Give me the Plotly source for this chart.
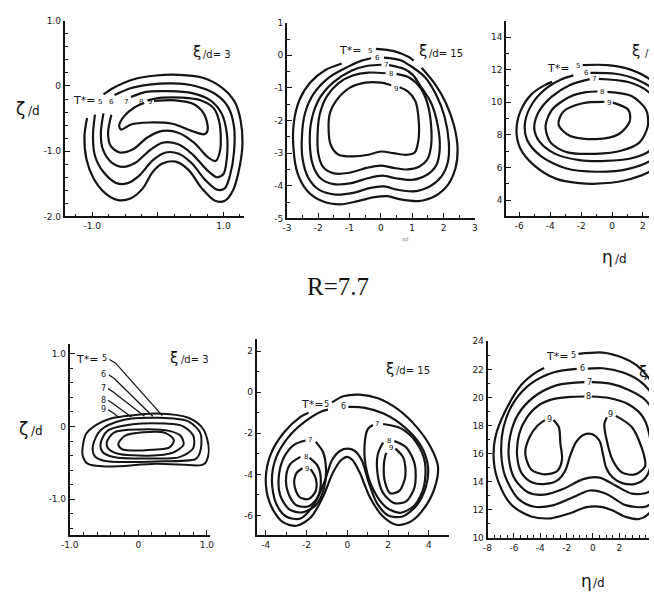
import plotly.graph_objects as go

# ---------------------------------------------------------------------------
# Isotherm contours T* = 5..9 in the (eta/d, zeta/d) cross plane,
# read off as (eta/d, zeta/d) vertices along each isoline.
# ---------------------------------------------------------------------------
LEVELS = [5, 6, 7, 8, 9]

# top row, xi/d = 3
P1_T5 = [(-1.08, -0.49), (-1.12, -0.77), (-1.09, -1.12), (-0.98, -1.42), (-0.81, -1.64),
         (-0.61, -1.75), (-0.41, -1.72), (-0.23, -1.57), (-0.08, -1.32), (0.07, -1.19),
         (0.27, -1.16), (0.47, -1.29), (0.67, -1.57), (0.87, -1.76), (1.02, -1.76),
         (1.15, -1.59), (1.25, -1.22), (1.29, -0.87), (1.26, -0.52), (1.17, -0.24),
         (0.97, -0.02), (0.67, 0.13), (0.32, 0.17), (-0.03, 0.16), (-0.38, 0.10),
         (-0.68, -0.03), (-0.83, -0.13)]
P1_T6 = [(-0.96, -0.44), (-0.99, -0.77), (-0.96, -1.07), (-0.83, -1.32), (-0.63, -1.49),
         (-0.46, -1.49), (-0.28, -1.37), (-0.08, -1.14), (0.12, -1.02), (0.32, -1.04),
         (0.52, -1.19), (0.72, -1.44), (0.90, -1.59), (1.02, -1.57), (1.10, -1.37),
         (1.16, -1.02), (1.16, -0.62), (1.07, -0.32), (0.87, -0.12), (0.57, 0.00),
         (0.22, 0.04), (-0.13, 0.02), (-0.43, -0.04), (-0.66, -0.14)]
P1_T7 = [(-0.83, -0.42), (-0.87, -0.72), (-0.84, -0.97), (-0.71, -1.17), (-0.53, -1.24),
         (-0.33, -1.17), (-0.13, -0.99), (0.07, -0.87), (0.30, -0.89), (0.52, -1.04),
         (0.75, -1.29), (0.90, -1.40), (1.00, -1.35), (1.05, -1.12), (1.05, -0.72),
         (0.97, -0.42), (0.80, -0.22), (0.52, -0.11), (0.17, -0.08), (-0.18, -0.09),
         (-0.41, -0.17)]
P1_T8 = [(-0.71, -0.44), (-0.76, -0.72), (-0.72, -0.92), (-0.58, -1.02), (-0.38, -0.97),
         (-0.16, -0.79), (0.07, -0.69), (0.32, -0.72), (0.55, -0.87), (0.77, -1.10),
         (0.88, -1.15), (0.95, -0.98), (0.94, -0.57), (0.85, -0.34), (0.65, -0.22),
         (0.37, -0.18), (0.07, -0.18), (-0.16, -0.22)]
P1_T9 = [(-0.06, -0.23), (0.27, -0.22), (0.55, -0.28), (0.71, -0.44), (0.76, -0.67),
         (0.71, -0.74), (0.52, -0.69), (0.22, -0.58), (-0.13, -0.56), (-0.41, -0.59),
         (-0.56, -0.67), (-0.59, -0.61), (-0.52, -0.47), (-0.36, -0.33), (-0.21, -0.26)]

# top row, xi/d = 15
P2_T5A = [(-0.16, 0.20), (0.42, 0.13), (0.89, -0.05), (1.05, -0.16)]
P2_T5B = [(1.30, -0.38), (1.72, -0.87), (2.08, -1.47), (2.34, -2.17), (2.45, -2.87),
          (2.38, -3.47), (2.14, -3.97), (1.72, -4.32), (1.20, -4.47), (0.63, -4.42),
          (0.21, -4.32), (-0.21, -4.35), (-0.73, -4.47), (-1.30, -4.57), (-1.88, -4.47),
          (-2.34, -4.17), (-2.66, -3.62), (-2.79, -2.87), (-2.78, -2.07), (-2.60, -1.37),
          (-2.24, -0.82), (-1.77, -0.45), (-1.25, -0.25)]
P2_T6 = [(0.10, -0.07), (0.63, -0.15), (0.94, -0.32), (1.41, -0.67), (1.77, -1.22),
         (2.03, -1.87), (2.17, -2.67), (2.14, -3.27), (1.93, -3.72), (1.56, -4.02),
         (1.04, -4.17), (0.52, -4.12), (0.10, -4.02), (-0.36, -4.07), (-0.89, -4.22),
         (-1.46, -4.27), (-1.98, -4.12), (-2.31, -3.77), (-2.50, -3.17), (-2.52, -2.47),
         (-2.42, -1.77), (-2.14, -1.17), (-1.67, -0.69), (-1.09, -0.37), (-0.63, -0.17),
         (-0.31, -0.09)]
P2_T7 = [(0.26, -0.30), (0.75, -0.42), (1.02, -0.60), (1.25, -0.92), (1.61, -1.47),
         (1.82, -2.17), (1.88, -2.87), (1.77, -3.37), (1.46, -3.67), (0.99, -3.82),
         (0.47, -3.77), (0.05, -3.69), (-0.42, -3.77), (-0.94, -3.92), (-1.51, -3.95),
         (-1.93, -3.77), (-2.17, -3.37), (-2.27, -2.67), (-2.21, -1.97), (-1.96, -1.32),
         (-1.51, -0.82), (-0.94, -0.47), (-0.42, -0.32), (0.02, -0.29)]
P2_T8 = [(0.50, -0.57), (0.90, -0.68), (1.25, -0.98), (1.48, -1.45), (1.60, -2.10),
         (1.60, -2.80), (1.48, -3.20), (1.22, -3.42), (0.85, -3.50), (0.40, -3.45),
         (0.00, -3.38), (-0.45, -3.45), (-1.00, -3.60), (-1.50, -3.62), (-1.85, -3.42),
         (-2.00, -3.00), (-2.02, -2.40), (-1.95, -1.80), (-1.72, -1.25), (-1.35, -0.85),
         (-0.90, -0.62), (-0.40, -0.53), (0.15, -0.55)]
P2_T9 = [(0.60, -0.98), (0.85, -1.10), (1.10, -1.40), (1.20, -1.90), (1.20, -2.60),
         (1.08, -2.98), (0.80, -3.05), (0.40, -3.00), (0.00, -2.95), (-0.40, -3.05),
         (-0.90, -3.10), (-1.35, -3.05), (-1.60, -2.75), (-1.67, -2.20), (-1.62, -1.75),
         (-1.42, -1.38), (-1.00, -1.00), (-0.50, -0.84), (0.00, -0.84), (0.33, -0.92)]

# top row, far field
P3_T5 = [(-1.90, 12.28), (-0.30, 12.28), (1.20, 12.00), (2.60, 11.30), (3.80, 10.00),
         (4.20, 8.50), (3.80, 7.00), (2.70, 5.90), (0.80, 5.20), (-1.20, 5.00),
         (-2.10, 5.04), (-3.60, 5.30), (-5.00, 6.10), (-5.95, 7.20), (-6.18, 8.30),
         (-5.90, 9.50), (-5.20, 10.50), (-4.35, 11.05), (-3.88, 11.25)]
P3_T6 = [(-1.40, 11.80), (0.20, 11.75), (1.60, 11.40), (2.90, 10.60), (3.60, 9.30),
         (3.50, 7.70), (2.60, 6.50), (1.00, 5.90), (-1.00, 5.74), (-3.00, 5.95),
         (-4.60, 6.70), (-5.50, 7.70), (-5.62, 8.80), (-5.10, 10.00), (-4.20, 10.90),
         (-3.30, 11.40), (-2.50, 11.65)]
P3_T7 = [(-0.85, 11.44), (1.05, 11.24), (2.35, 10.64), (3.10, 9.60), (3.10, 8.20),
         (2.40, 7.00), (1.20, 6.55), (-0.40, 6.40), (-2.10, 6.45), (-3.70, 6.85),
         (-4.70, 7.60), (-5.03, 8.40), (-4.75, 9.40), (-3.90, 10.35), (-2.75, 11.05),
         (-1.45, 11.42)]
P3_T8 = [(-0.30, 10.64), (1.26, 10.38), (2.20, 9.54), (2.31, 8.54), (1.78, 7.54),
         (0.63, 7.04), (-1.05, 6.84), (-2.94, 6.94), (-3.98, 7.54), (-4.30, 8.54),
         (-3.88, 9.54), (-2.73, 10.34), (-1.68, 10.62), (-0.95, 10.66)]
P3_T9 = [(0.05, 9.98), (1.05, 9.54), (1.15, 8.84), (0.42, 8.04), (-1.05, 7.74),
         (-2.73, 7.94), (-3.46, 8.64), (-3.14, 9.44), (-1.89, 9.94), (-0.50, 10.02)]

# bottom row, xi/d = 3 (closed isolines)
P4_T5 = [(-0.81, -0.28), (-0.76, -0.10), (-0.60, 0.03), (-0.40, 0.11), (-0.22, 0.14),
         (0.26, 0.18), (0.73, 0.12), (0.95, -0.04), (1.03, -0.33), (0.98, -0.50),
         (0.92, -0.53), (0.26, -0.51), (-0.46, -0.55), (-0.74, -0.51), (-0.81, -0.40)]
P4_T6 = [(-0.66, -0.26), (-0.55, -0.05), (-0.22, 0.09), (0.30, 0.12), (0.73, 0.07),
         (0.90, -0.08), (0.92, -0.24), (0.88, -0.40), (0.83, -0.45), (0.26, -0.48),
         (-0.50, -0.47), (-0.64, -0.40)]
P4_T7 = [(-0.55, -0.24), (-0.45, -0.06), (-0.08, 0.03), (0.40, 0.04), (0.64, 0.01),
         (0.80, -0.12), (0.80, -0.30), (0.60, -0.42), (0.20, -0.44), (-0.36, -0.42),
         (-0.52, -0.35)]
P4_T8 = [(-0.46, -0.22), (-0.35, -0.08), (0.02, -0.04), (0.45, -0.06), (0.62, -0.13),
         (0.66, -0.25), (0.50, -0.36), (0.16, -0.40), (-0.31, -0.37), (-0.44, -0.30)]
P4_T9 = [(-0.29, -0.24), (-0.20, -0.13), (0.07, -0.08), (0.40, -0.09), (0.52, -0.19),
         (0.45, -0.29), (0.20, -0.32), (0.02, -0.33), (-0.24, -0.31)]
# leader lines from the level labels down to the isolines
P4_LEAD = [
    [(-0.42, 0.92), (-0.33, 0.87), (0.35, 0.15)],
    [(-0.43, 0.71), (-0.35, 0.66), (0.21, 0.14)],
    [(-0.44, 0.52), (-0.36, 0.47), (0.09, 0.14)],
    [(-0.44, 0.36), (-0.36, 0.31), (-0.10, 0.13)],
    [(-0.44, 0.23), (-0.37, 0.19), (-0.29, 0.13)],
]

# bottom row, xi/d = 15 (two lobes)
P5_T5 = [(-0.75, -0.50), (-0.20, -0.20), (0.60, -0.12), (1.50, -0.30), (2.50, -0.85),
         (3.40, -1.70), (4.10, -2.70), (4.44, -3.60), (4.30, -4.60), (3.80, -5.60),
         (3.10, -6.30), (2.40, -6.45), (1.70, -6.00), (1.10, -5.10), (0.60, -3.90),
         (0.25, -3.30), (0.00, -3.15), (-0.30, -3.30), (-0.70, -3.90), (-1.20, -5.10),
         (-1.80, -6.10), (-2.50, -6.50), (-3.20, -6.30), (-3.80, -5.40), (-4.00, -4.20),
         (-3.75, -3.00), (-3.10, -1.95), (-2.30, -1.20), (-1.90, -1.00)]
P5_T6 = [(0.05, -0.72), (0.80, -0.75), (1.80, -1.05), (2.80, -1.70), (3.60, -2.60),
         (3.95, -3.60), (3.85, -4.60), (3.40, -5.50), (2.70, -6.05), (2.00, -6.00),
         (1.45, -5.40), (1.05, -4.40), (0.70, -3.30), (0.35, -2.85), (0.00, -2.75),
         (-0.35, -2.85), (-0.75, -3.30), (-1.10, -4.30), (-1.60, -5.40), (-2.30, -6.15),
         (-3.00, -6.05), (-3.50, -5.40), (-3.70, -4.30), (-3.50, -3.20), (-2.90, -2.20),
         (-2.10, -1.45), (-1.30, -0.95), (-0.95, -0.85)]
P5_T7L = [(-1.55, -2.42), (-1.20, -2.90), (-1.05, -3.70), (-1.15, -4.70), (-1.55, -5.50),
          (-2.20, -5.85), (-2.85, -5.70), (-3.30, -5.00), (-3.35, -4.00), (-3.10, -3.15),
          (-2.60, -2.55), (-2.05, -2.35)]
P5_T8L = [(-1.85, -3.20), (-1.45, -3.60), (-1.30, -4.30), (-1.45, -5.10), (-1.90, -5.55),
          (-2.50, -5.50), (-2.90, -4.90), (-3.00, -4.10), (-2.80, -3.50), (-2.30, -3.15)]
P5_T9L = [(-1.80, -3.75), (-1.55, -4.20), (-1.55, -4.80), (-1.90, -5.20), (-2.35, -5.10),
          (-2.60, -4.50), (-2.50, -3.95), (-2.20, -3.70)]
P5_T7R = [(1.75, -1.55), (2.60, -1.75), (3.35, -2.40), (3.80, -3.40), (3.75, -4.60),
          (3.30, -5.50), (2.60, -5.87), (1.90, -5.60), (1.30, -4.80), (0.90, -3.60),
          (0.85, -2.50), (1.00, -1.80), (1.25, -1.60)]
P5_T8R = [(2.30, -2.38), (2.90, -2.70), (3.30, -3.50), (3.30, -4.60), (2.90, -5.30),
          (2.30, -5.40), (1.75, -4.90), (1.47, -3.90), (1.50, -3.00), (1.75, -2.45)]
P5_T9R = [(2.35, -2.75), (2.75, -3.20), (2.84, -4.10), (2.55, -4.80), (2.10, -4.92),
          (1.85, -4.40), (1.79, -3.50), (1.90, -2.95)]

# bottom row, far field (two lobes)
P6_T5 = [(-1.10, 23.10), (0.74, 23.20), (2.22, 22.85), (3.30, 22.30), (4.30, 21.30),
         (5.20, 19.50), (5.60, 16.50), (5.20, 13.60), (4.30, 11.80), (3.50, 11.35),
         (2.50, 11.50), (1.50, 11.95), (0.74, 12.20), (-0.49, 12.20), (-1.73, 11.76),
         (-3.20, 11.40), (-4.69, 11.53), (-6.17, 12.34), (-7.16, 13.95), (-7.53, 15.57),
         (-7.40, 17.20), (-6.67, 19.00), (-5.43, 20.90), (-4.30, 21.80), (-3.70, 22.10)]
P6_T6 = [(-0.40, 22.06), (0.74, 22.08), (2.22, 21.80), (3.46, 21.23), (4.50, 20.20),
         (5.20, 18.00), (5.20, 14.50), (4.50, 12.60), (3.95, 12.22), (2.47, 12.34),
         (0.99, 13.15), (-0.25, 13.38), (-1.48, 12.91), (-2.96, 12.34), (-4.44, 12.22),
         (-5.68, 12.80), (-6.67, 14.42), (-6.96, 16.03), (-6.79, 17.88), (-6.05, 19.60),
         (-4.69, 21.00), (-2.96, 21.80), (-1.23, 22.04)]
P6_T7 = [(-0.10, 21.10), (1.23, 21.00), (2.72, 20.54), (3.95, 19.84), (4.80, 18.50),
         (5.00, 16.00), (4.80, 14.00), (4.20, 13.26), (2.96, 13.15), (1.73, 13.72),
         (0.49, 14.30), (-0.74, 14.19), (-2.22, 13.50), (-3.70, 13.08), (-4.94, 13.26),
         (-5.93, 14.19), (-6.37, 15.57), (-6.30, 17.19), (-5.68, 18.80), (-4.44, 20.07),
         (-2.72, 20.88), (-0.65, 21.10)]
P6_T8 = [(-0.10, 20.07), (1.23, 19.96), (2.72, 19.50), (3.80, 18.60), (4.35, 17.00),
         (4.40, 15.30), (4.00, 14.30), (3.21, 13.85), (2.22, 13.90), (1.50, 14.30),
         (1.00, 15.00), (0.75, 16.00), (0.50, 16.90), (-0.10, 17.40), (-0.70, 17.35),
         (-1.30, 16.80), (-1.75, 15.80), (-2.10, 14.80), (-2.70, 14.10), (-3.60, 13.85),
         (-4.60, 13.95), (-5.40, 14.60), (-5.75, 15.80), (-5.60, 17.40), (-5.00, 18.60),
         (-4.10, 19.45), (-2.96, 19.90), (-1.60, 20.05), (-0.65, 20.07)]
P6_T9L = [(-3.00, 18.40), (-2.59, 17.88), (-2.47, 16.72), (-2.35, 15.57), (-2.72, 14.76),
          (-3.70, 14.53), (-4.69, 14.88), (-5.14, 16.03), (-4.81, 17.19), (-4.20, 18.00),
          (-3.65, 18.39)]
P6_T9R = [(1.73, 18.69), (2.96, 17.88), (3.83, 16.03), (3.95, 15.10), (3.21, 14.53),
          (2.22, 14.65), (1.48, 15.57), (0.99, 17.19), (0.86, 18.11), (1.05, 18.60)]

# tick values per panel
P1_XTICKS, P1_YTICKS = [-1.0, 0.0, 1.0], [1.0, 0.0, -1.0, -2.0]
P2_XTICKS, P2_YTICKS = [-3, -2, -1, 0, 1, 2, 3], [1, 0, -1, -2, -3, -4, -5]
P3_XTICKS, P3_YTICKS = [-6, -4, -2, 0, 2], [4, 6, 8, 10, 12, 14]
P4_XTICKS, P4_YTICKS = [-1.0, 0.0, 1.0], [1.0, 0.0, -1.0]
P5_XTICKS, P5_YTICKS = [-4, -2, 0, 2, 4], [2, 0, -2, -4, -6]
P6_XTICKS, P6_YTICKS = [-8, -6, -4, -2, 0, 2], [10, 12, 14, 16, 18, 20, 22, 24]

# ---------------------------------------------------------------------------
W, H = 654, 599
INK = "#151515"
FONT = "DejaVu Sans"

fig = go.Figure()


def ax_id(n):
    return ("x" if n == 1 else f"x{n}"), ("y" if n == 1 else f"y{n}")


def isoline(n, pts, closed=False, width=2.2, shape="spline"):
    pts = list(pts) + ([pts[0]] if closed else [])
    xa, ya = ax_id(n)
    fig.add_trace(go.Scatter(
        x=[p[0] for p in pts], y=[p[1] for p in pts], mode="lines",
        line=dict(color=INK, width=width, shape=shape, smoothing=0.85),
        xaxis=xa, yaxis=ya, hoverinfo="skip", showlegend=False))


for pts in (P1_T5, P1_T6, P1_T7, P1_T8, P1_T9):
    isoline(1, pts)
for pts in (P2_T5A, P2_T5B, P2_T6, P2_T7, P2_T8, P2_T9):
    isoline(2, pts)
for pts in (P3_T5, P3_T6, P3_T7, P3_T8, P3_T9):
    isoline(3, pts)
for pts in (P4_T5, P4_T6, P4_T7, P4_T8, P4_T9):
    isoline(4, pts, closed=True, width=2.0)
for pts in P4_LEAD:
    isoline(4, pts, width=1.3, shape="linear")
for pts in (P5_T5, P5_T6, P5_T7L, P5_T8L, P5_T9L, P5_T7R, P5_T8R, P5_T9R):
    isoline(5, pts)
for pts in (P6_T5, P6_T6, P6_T7, P6_T8, P6_T9L, P6_T9R):
    isoline(6, pts)


def fmt(v, dec):
    if v == 0:
        return "0"
    return f"{v:.1f}" if dec else f"{v:g}"


# panel frames: pixel box (left, right, top, bottom), data ranges, minor steps
PANELS = {
    1: dict(box=(57, 240.6, 16, 215), xr=(-1.42, 1.32), yr=(-2.0, 1.0),
            xt=P1_XTICKS, yt=P1_YTICKS, dec=True, xm=0.25, ym=0.2, x0lab=False),
    2: dict(box=(284, 476, 18, 217), xr=(-3, 3), yr=(-5, 1),
            xt=P2_XTICKS, yt=P2_YTICKS, dec=False, xm=0.5, ym=0.5),
    3: dict(box=(508, 654, 16, 215), xr=(-6.85, 2.39), yr=(3, 15),
            xt=P3_XTICKS, yt=P3_YTICKS, dec=False, xm=1, ym=1),
    4: dict(box=(62, 205, 345, 539), xr=(-1.0, 1.04), yr=(-1.49, 1.13),
            xt=P4_XTICKS, yt=P4_YTICKS, dec=True, xm=0.2, ym=0.2),
    5: dict(box=(253, 450, 340, 539), xr=(-4.45, 5.0), yr=(-6.95, 2.57),
            xt=P5_XTICKS, yt=P5_YTICKS, dec=False, xm=1, ym=1),
    6: dict(box=(489, 654, 342, 542), xr=(-8, 4.25), yr=(10, 24),
            xt=P6_XTICKS, yt=P6_YTICKS, dec=False, xm=0.5, ym=1),
}

tickfont = dict(family=FONT, size=9, color=INK)
for n, p in PANELS.items():
    l, r, t, b = p["box"]
    xa, ya = ax_id(n)
    xtext = [fmt(v, p["dec"]) for v in p["xt"]]
    if p.get("x0lab") is False:
        xtext = ["" if v == 0 else s for v, s in zip(p["xt"], xtext)]
    common = dict(showgrid=False, zeroline=False, showline=True, linecolor=INK,
                  linewidth=1.8, ticks="inside", ticklen=5, tickwidth=1.3,
                  tickcolor=INK, tickfont=tickfont, tickmode="array", fixedrange=True)
    fig.layout["xaxis" + ("" if n == 1 else str(n))] = dict(
        common, domain=[l / W, r / W], range=list(p["xr"]), anchor=ya,
        tickvals=p["xt"], ticktext=xtext,
        minor=dict(ticks="inside", ticklen=3, tickwidth=1.1, tickcolor=INK,
                   tickmode="linear", tick0=0, dtick=p["xm"]))
    fig.layout["yaxis" + ("" if n == 1 else str(n))] = dict(
        common, domain=[1 - b / H, 1 - t / H], range=list(p["yr"]), anchor=xa,
        tickvals=p["yt"], ticktext=[fmt(v, p["dec"]) for v in p["yt"]],
        minor=dict(ticks="inside", ticklen=3, tickwidth=1.1, tickcolor=INK,
                   tickmode="linear", tick0=0, dtick=p["ym"]))

ann = []


def lab(n, text, x, y, size=8, xanchor="center"):
    xa, ya = ax_id(n)
    ann.append(dict(text=text, x=x, y=y, xref=xa, yref=ya, showarrow=False,
                    xanchor=xanchor, yanchor="middle",
                    font=dict(family=FONT, size=size, color=INK)))


def page(text, px, py, size=14, family=FONT, xanchor="center", color=INK):
    ann.append(dict(text=text, x=px / W, y=1 - py / H, xref="paper", yref="paper",
                    showarrow=False, xanchor=xanchor, yanchor="middle",
                    font=dict(family=family, size=size, color=color)))


def symbol_over_d(sym, suffix, px, py, big=15, small=10):
    """Greek symbol followed by a smaller '/d...' suffix."""
    page(sym, px, py, size=big)
    page(suffix, px + big * 0.3, py + 2, size=small, xanchor="left")


TSTAR = "T*="

# panel 1 level labels
lab(1, TSTAR, -1.13, -0.22, size=11)
for lv, x in zip(LEVELS, (-0.88, -0.71, -0.49, -0.26, -0.12)):
    lab(1, str(lv), x, -0.25, size=7)

# panel 2
lab(2, TSTAR, -1.0, 0.16, size=11)
lab(2, "5", -0.34, 0.14, size=7)
for lv, (x, y) in zip(LEVELS[1:], ((-0.12, -0.07), (0.16, -0.30), (0.33, -0.57), (0.47, -1.02))):
    lab(2, str(lv), x, y, size=7)

# panel 3
lab(3, TSTAR, -3.5, 12.05, size=11)
for lv, (x, y) in zip(LEVELS, ((-2.2, 12.24), (-1.68, 11.78), (-1.15, 11.44),
                               (-0.63, 10.64), (-0.21, 9.98))):
    lab(3, str(lv), x, y, size=7)

# panel 4
lab(4, TSTAR, -0.75, 0.92, size=11)
lab(4, "5", -0.49, 0.93, size=8)
for lv, y in zip(LEVELS[1:], (0.71, 0.52, 0.36, 0.23)):
    lab(4, str(lv), -0.51, y, size=8)

# panel 5
lab(5, TSTAR, -1.75, -0.6, size=11)
lab(5, "5", -1.0, -0.58, size=8)
lab(5, "6", -0.21, -0.71, size=8)
for lv, (x, y) in zip(LEVELS[2:], ((-1.81, -2.33), (-2.05, -3.15), (-1.97, -3.72))):
    lab(5, str(lv), x, y, size=7)
for lv, (x, y) in zip(LEVELS[2:], ((1.47, -1.57), (2.03, -2.36), (2.12, -2.72))):
    lab(5, str(lv), x, y, size=7)

# panel 6
lab(6, TSTAR, -2.7, 22.95, size=11)
for lv, (x, y) in zip(LEVELS[:4], ((-1.48, 22.96), (-0.8, 22.04), (-0.3, 21.1), (-0.37, 20.07))):
    lab(6, str(lv), x, y, size=8)
lab(6, "9", -3.33, 18.46, size=8)
lab(6, "9", 1.36, 18.8, size=8)

# station captions
symbol_over_d("ξ", "/d= 3", 192, 48)
symbol_over_d("ξ", "/d= 15", 423, 47)
symbol_over_d("ξ", "/d= 3", 169, 359)
symbol_over_d("ξ", "/d= 15", 389, 370)
page("ξ", 641, 47, size=15)
page("/", 648, 49, size=10, xanchor="left")
page("ξ", 648, 373, size=15)

# axis titles
symbol_over_d("ζ", "/d", 12, 106, big=17, small=12)
symbol_over_d("ζ", "/d", 15, 431, big=17, small=12)
symbol_over_d("η", "/d", 612, 256, big=17, small=12)
symbol_over_d("η", "/d", 590, 586, big=17, small=12)
page("ηd", 405, 238, size=5, color="#777777")

page("R=7.7", 336, 286, size=25, family="Liberation Serif")

fig.update_layout(
    width=W, height=H, margin=dict(l=0, r=0, t=0, b=0),
    paper_bgcolor="white", plot_bgcolor="rgba(0,0,0,0)",
    annotations=ann, showlegend=False,
)

fig.write_html("out.html")
